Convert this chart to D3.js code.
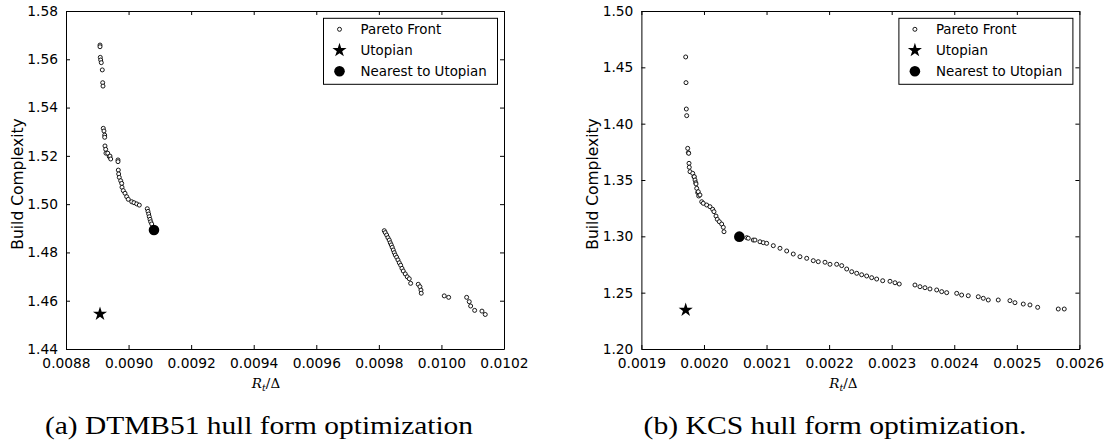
<!DOCTYPE html>
<html>
<head>
<meta charset="utf-8">
<script src="https://cdn.jsdelivr.net/npm/d3@7"></script>
<style>
  html, body { margin: 0; padding: 0; background: #fff; }
  svg { display: block; }
</style>
</head>
<body>
<svg id="chart" width="1115" height="443"></svg>
<script>
// ---------------- DATA ----------------
// (a) DTMB51
const leftParetoX = [0.0089087,0.0089087,0.0089096,0.0089109,0.0089128,0.0089160,0.0089173,0.0089183,
  0.0089192,0.0089214,0.0089237,0.0089237,0.0089246,0.0089269,0.0089278,0.0089333,0.0089384,0.0089406,0.0089429,
  0.0089662,0.0089662,0.0089672,0.0089684,0.0089703,0.0089748,0.0089780,0.0089790,0.0089831,0.0089886,0.0089940,
  0.0089991,0.0090100,0.0090173,0.0090260,0.0090343,0.0090598,0.0090621,0.0090643,0.0090662,0.0090685,0.0090707,0.0090739,
  0.0098173,0.0098205,0.0098250,0.0098291,0.0098333,0.0098365,0.0098397,0.0098429,0.0098461,0.0098493,0.0098525,
  0.0098569,0.0098611,0.0098653,0.0098697,0.0098739,0.0098780,0.0098844,0.0098908,0.0098972,0.0099016,
  0.0099259,0.0099314,0.0099346,0.0099355,0.0100090,0.0100231,0.0100806,0.0100889,0.0100934,0.0101062,0.0101295,0.0101401];
const leftParetoY = [1.5659,1.5652,1.5608,1.5597,1.5586,1.5556,1.5503,1.5489,
  1.5314,1.5303,1.5286,1.5277,1.5241,1.5227,1.5211,1.5211,1.5197,1.5199,1.5187,
  1.5183,1.5176,1.5141,1.5125,1.5111,1.5097,1.5086,1.5070,1.5056,1.5045,1.5031,
  1.5020,1.5010,1.5006,1.5001,1.4996,1.4981,1.4970,1.4959,1.4948,1.4937,1.4927,1.4918,
  1.4890,1.4882,1.4872,1.4861,1.4851,1.4840,1.4831,1.4821,1.4810,1.4799,1.4789,
  1.4780,1.4769,1.4757,1.4747,1.4734,1.4723,1.4711,1.4699,1.4691,1.4672,
  1.4668,1.4658,1.4644,1.4631,1.4620,1.4614,1.4614,1.4596,1.4578,1.4560,1.4557,1.4543];
const leftUtopian = [0.0089087, 1.4545];
const leftNearest = [0.0090812, 1.4893];
const leftXTicks = [0.0088,0.0090,0.0092,0.0094,0.0096,0.0098,0.0100,0.0102];
const leftYTicks = [1.44,1.46,1.48,1.50,1.52,1.54,1.56,1.58];

// (b) KCS
const rightParetoX = [0.0019708,0.0019713,0.0019718,0.0019724,0.0019740,0.0019750,0.0019756,0.0019761,0.0019765,
  0.0019777,0.0019820,0.0019841,0.0019845,0.0019857,0.0019868,0.0019873,0.0019884,0.0019900,0.0019909,0.0019916,
  0.0019936,0.0019964,0.0019989,0.0020043,0.0020096,0.0020139,0.0020160,0.0020192,0.0020213,0.0020245,0.0020283,
  0.0020309,0.0020320,
  0.0020683,0.0020708,0.0020788,0.0020815,0.0020895,0.0020948,0.0021002,0.0021108,0.0021215,0.0021322,0.0021427,
  0.0021534,0.0021642,0.0021747,0.0021827,0.0021934,0.0022014,0.0022121,0.0022201,0.0022281,0.0022361,0.0022441,
  0.0022520,0.0022600,0.0022680,0.0022760,0.0022856,0.0022973,0.0023053,0.0023121,0.0023372,0.0023452,0.0023532,
  0.0023612,0.0023719,0.0023799,0.0023879,0.0024039,0.0024118,0.0024224,0.0024384,0.0024464,0.0024544,0.0024703,
  0.0024890,0.0024970,0.0025103,0.0025210,0.0025333,0.0025662,0.0025758];
const rightParetoY = [1.4592,1.4364,1.4130,1.4071,1.3781,1.3742,1.3737,1.3648,1.3613,
  1.3574,1.3559,1.3529,1.3529,1.3500,1.3476,1.3465,1.3426,1.3388,1.3396,1.3358,
  1.3367,1.3307,1.3293,1.3278,1.3263,1.3240,1.3219,1.3180,1.3151,1.3130,1.3109,
  1.3080,1.3041,
  1.2988,1.2983,1.2967,1.2967,1.2952,1.2944,1.2938,1.2917,1.2894,1.2870,1.2843,
  1.2819,1.2805,1.2784,1.2775,1.2770,1.2752,1.2752,1.2740,1.2710,1.2686,1.2672,
  1.2659,1.2648,1.2633,1.2621,1.2606,1.2601,1.2588,1.2577,1.2568,1.2553,1.2544,
  1.2533,1.2524,1.2509,1.2500,1.2494,1.2479,1.2473,1.2464,1.2450,1.2435,1.2435,
  1.2429,1.2411,1.2399,1.2391,1.2370,1.2355,1.2355];
const rightUtopian = [0.0019708, 1.2346];
const rightNearest = [0.0020565, 1.2997];
const rightXTicks = [0.0019,0.0020,0.0021,0.0022,0.0023,0.0024,0.0025,0.0026];
const rightYTicks = [1.20,1.25,1.30,1.35,1.40,1.45,1.50];

const legendLabels = ["Pareto Front", "Utopian", "Nearest to Utopian"];
const yLabel = "Build Complexity";
const captions = ["(a) DTMB51 hull form optimization", "(b) KCS hull form optimization."];

// ---------------- DRAW ----------------
const svg = d3.select("#chart");
const FONT = "'DejaVu Sans', sans-serif";
const FS = 13.8;

function panel(opt) {
  const {x0, x1, y0, y1, xTicks, yTicks, xFmt, yFmt, px, py, utop, near, caption, capW, xlabShift} = opt;
  const x = d3.scaleLinear().domain([xTicks[0], xTicks[xTicks.length-1]]).range([x0, x1]);
  const y = d3.scaleLinear().domain([yTicks[0], yTicks[yTicks.length-1]]).range([y1, y0]);
  const g = svg.append("g");

  // axes (ticks inside, all four sides)
  const bottom = g.append("g").attr("transform", `translate(0,${y1})`)
    .call(d3.axisBottom(x).tickValues(xTicks).tickFormat(xFmt).tickSizeInner(-4).tickSizeOuter(0).tickPadding(9));
  const top = g.append("g").attr("transform", `translate(0,${y0})`)
    .call(d3.axisTop(x).tickValues(xTicks).tickFormat("").tickSizeInner(-4).tickSizeOuter(0));
  const left = g.append("g").attr("transform", `translate(${x0},0)`)
    .call(d3.axisLeft(y).tickValues(yTicks).tickFormat(yFmt).tickSizeInner(-4).tickSizeOuter(0).tickPadding(8));
  const right = g.append("g").attr("transform", `translate(${x1},0)`)
    .call(d3.axisRight(y).tickValues(yTicks).tickFormat("").tickSizeInner(-4).tickSizeOuter(0));
  [bottom, top, left, right].forEach(a => {
    a.select(".domain").attr("stroke", "#000").attr("stroke-width", 1);
    a.selectAll(".tick line").attr("stroke", "#000").attr("stroke-width", 1);
    a.selectAll("text").attr("font-family", FONT).attr("font-size", FS).attr("fill", "#000");
  });

  // points
  const idx = d3.range(px.length);
  g.append("g").selectAll("circle").data(idx).join("circle")
    .attr("cx", i => x(px[i])).attr("cy", i => y(py[i])).attr("r", 2)
    .attr("fill", "#fff").attr("stroke", "#000").attr("stroke-width", 0.9);
  g.append("path").attr("d", d3.symbol(d3.symbolStar, 62)())
    .attr("transform", `translate(${x(utop[0])},${y(utop[1])})`).attr("fill", "#000");
  g.append("circle").attr("cx", x(near[0])).attr("cy", y(near[1])).attr("r", 5.3).attr("fill", "#000");

  // axis labels
  const cx = (x0 + x1) / 2;
  const xl = g.append("text").attr("x", cx + xlabShift).attr("y", 388)
    .attr("text-anchor", "middle").attr("font-family", "'DejaVu Serif', serif").attr("font-size", 13.5);
  xl.append("tspan").attr("font-style", "italic").text("R");
  xl.append("tspan").attr("font-style", "italic").attr("font-size", 9.5).attr("dy", 3).text("t");
  xl.append("tspan").attr("dy", -3).text("/Δ");

  g.append("text").attr("transform", `translate(${x0 - 43},${(y0 + y1) / 2 + 4}) rotate(-90)`)
    .attr("text-anchor", "middle").attr("font-family", FONT).attr("font-size", 15.5).text(yLabel);

  // legend
  const lw = 174, lh = 66, lx = x1 - 6.5 - lw, ly = y0 + 7.3;
  const lg = g.append("g");
  lg.append("rect").attr("x", lx).attr("y", ly).attr("width", lw).attr("height", lh)
    .attr("fill", "#fff").attr("stroke", "#000").attr("stroke-width", 1);
  const rows = [ly + 11, ly + 32, ly + 53];
  lg.append("circle").attr("cx", lx + 16).attr("cy", rows[0]).attr("r", 2)
    .attr("fill", "#fff").attr("stroke", "#000").attr("stroke-width", 0.9);
  lg.append("path").attr("d", d3.symbol(d3.symbolStar, 62)())
    .attr("transform", `translate(${lx + 16},${rows[1]})`).attr("fill", "#000");
  lg.append("circle").attr("cx", lx + 16).attr("cy", rows[2]).attr("r", 5.3).attr("fill", "#000");
  legendLabels.forEach((t, i) => {
    lg.append("text").attr("x", lx + 37).attr("y", rows[i]).attr("dy", "0.35em")
      .attr("font-family", FONT).attr("font-size", 13.4).text(t);
  });

  // caption
  g.append("text").attr("x", opt.capX).attr("y", 434).attr("text-anchor", "middle")
    .attr("font-family", "'Liberation Serif', serif").attr("font-size", 25)
    .attr("textLength", capW).attr("lengthAdjust", "spacingAndGlyphs").text(caption);
}

panel({x0: 66, x1: 504, y0: 11, y1: 349, xTicks: leftXTicks, yTicks: leftYTicks,
  xFmt: d3.format(".4f"), yFmt: d3.format(".2f"), px: leftParetoX, py: leftParetoY,
  utop: leftUtopian, near: leftNearest, caption: captions[0], capX: 259, capW: 428, xlabShift: -19});
panel({x0: 641.4, x1: 1079.4, y0: 11, y1: 349, xTicks: rightXTicks, yTicks: rightYTicks,
  xFmt: d3.format(".4f"), yFmt: d3.format(".2f"), px: rightParetoX, py: rightParetoY,
  utop: rightUtopian, near: rightNearest, caption: captions[1], capX: 835, capW: 383, xlabShift: -17});
</script>
</body>
</html>
